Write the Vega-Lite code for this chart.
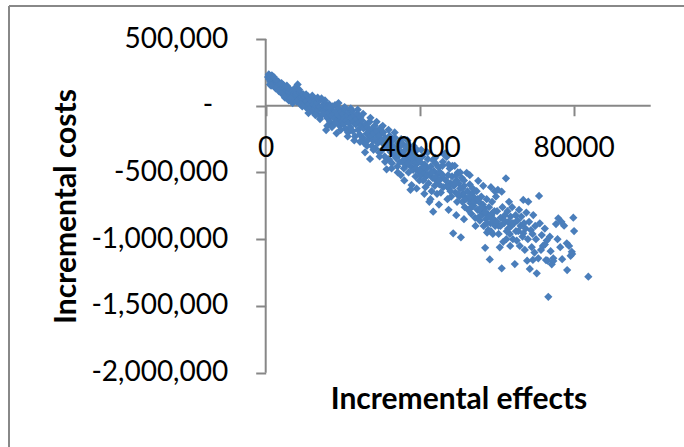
{
  "$schema": "https://vega.github.io/schema/vega-lite/v6.json",
  "width": 675,
  "height": 441,
  "autosize": {"type": "none"},
  "padding": {"left": 9, "top": 6, "right": 0, "bottom": 0},
  "config": {
    "font": "Lato",
    "view": {"stroke": "#888888", "strokeWidth": 2, "strokeDash": [675, 1116, 441, 0]}
  },
  "datasets": {
    "axes": [
      {"e": 0, "e2": 0, "c": -2000000, "c2": 500000},
      {"e": 0, "e2": 100000, "c": 0, "c2": 0}
    ],
    "pts": [
      {"e":600,"c":215000},{"e":800,"c":235000},{"e":900,"c":198000},{"e":1000,"c":225000},{"e":1200,"c":180000},{"e":1300,"c":210000},{"e":1500,"c":190000},{"e":1600,"c":228000},{"e":1700,"c":170000},{"e":1900,"c":205000},{"e":2000,"c":185000},{"e":2200,"c":160000},{"e":2300,"c":200000},{"e":2500,"c":175000},{"e":2700,"c":150000},{"e":2800,"c":190000},{"e":3000,"c":165000},{"e":3100,"c":140000},
      {"e":3300,"c":180000},{"e":3500,"c":130000},{"e":3600,"c":160000},{"e":3800,"c":145000},{"e":4000,"c":120000},{"e":4100,"c":170000},{"e":4300,"c":135000},{"e":4500,"c":110000},{"e":4600,"c":155000},{"e":4800,"c":125000},{"e":5000,"c":100000},{"e":5200,"c":140000},{"e":5400,"c":115000},{"e":5600,"c":90000},{"e":5800,"c":130000},
      {"e":6000,"c":105000},{"e":6200,"c":75000},{"e":6400,"c":120000},{"e":6600,"c":95000},{"e":6800,"c":60000},{"e":7000,"c":110000},{"e":7200,"c":85000},{"e":7400,"c":50000},{"e":7600,"c":100000},{"e":7800,"c":70000},{"e":8000,"c":90000},{"e":8300,"c":160000},{"e":8400,"c":40000},{"e":8600,"c":80000},{"e":8800,"c":55000},{"e":9000,"c":100000},{"e":9200,"c":30000},{"e":9400,"c":65000},{"e":9600,"c":45000},{"e":9800,"c":85000},
      {"e":10000,"c":20000},{"e":10200,"c":60000},{"e":10400,"c":-10000},{"e":10600,"c":35000},{"e":10800,"c":5000},{"e":11000,"c":70000},{"e":11200,"c":-30000},{"e":11400,"c":15000},{"e":11600,"c":45000},{"e":11800,"c":-15000},{"e":12000,"c":30000},{"e":12200,"c":-45000},{"e":12400,"c":10000},{"e":12600,"c":50000},{"e":12800,"c":-20000},{"e":13000,"c":0},{"e":13200,"c":-60000},{"e":13400,"c":25000},{"e":13600,"c":-35000},{"e":13800,"c":40000},{"e":14000,"c":-10000},{"e":14200,"c":-80000},{"e":14500,"c":55000},{"e":14700,"c":-25000},{"e":14900,"c":5000},
      {"e":15100,"c":-40000},{"e":15300,"c":20000},{"e":15500,"c":-70000},{"e":15700,"c":-182000},{"e":15900,"c":-15000},{"e":16100,"c":-95000},{"e":16300,"c":-50000},{"e":16500,"c":10000},{"e":16700,"c":-120000},{"e":16900,"c":-30000},{"e":17100,"c":-75000},{"e":17300,"c":-5000},{"e":17500,"c":-140000},{"e":17700,"c":-60000},{"e":17900,"c":-95000},{"e":18000,"c":5000},{"e":18200,"c":-40000},{"e":18400,"c":-207000},{"e":18600,"c":-110000},{"e":18800,"c":-70000},{"e":19000,"c":-20000},{"e":19200,"c":-150000},{"e":19400,"c":-85000},{"e":19600,"c":-45000},{"e":19800,"c":-120000},
      {"e":20000,"c":-60000},{"e":20200,"c":-140000},{"e":20400,"c":-95000},{"e":20600,"c":-30000},{"e":20800,"c":-175000},{"e":21000,"c":-110000},{"e":21200,"c":-70000},{"e":21400,"c":-200000},{"e":21600,"c":-130000},{"e":21800,"c":-50000},{"e":22000,"c":-160000},{"e":22200,"c":-90000},{"e":22400,"c":-40000},{"e":22600,"c":-190000},{"e":22800,"c":-120000},{"e":23000,"c":-75000},{"e":23200,"c":-230000},{"e":23400,"c":-140000},{"e":23600,"c":-100000},{"e":23800,"c":-60000},{"e":24000,"c":-180000},{"e":24200,"c":-125000},{"e":24400,"c":-215000},{"e":24600,"c":-85000},{"e":24800,"c":-150000},
      {"e":25000,"c":-110000},{"e":25200,"c":-240000},{"e":25400,"c":-170000},{"e":25600,"c":-280000},{"e":25800,"c":-349000},{"e":26000,"c":-137000},{"e":26200,"c":-210000},{"e":26400,"c":-160000},{"e":26600,"c":-255000},{"e":26800,"c":-190000},{"e":27000,"c":-120000},{"e":27100,"c":-399000},{"e":27300,"c":-230000},{"e":27500,"c":-300000},{"e":27700,"c":-175000},{"e":27900,"c":-260000},{"e":28100,"c":-205000},{"e":28300,"c":-150000},{"e":28500,"c":-320000},{"e":28700,"c":-245000},{"e":28900,"c":-190000},{"e":29100,"c":-280000},{"e":29300,"c":-225000},{"e":29500,"c":-350000},{"e":29700,"c":-220000},{"e":29900,"c":-165000},
      {"e":30100,"c":-260000},{"e":30300,"c":-330000},{"e":30500,"c":-200000},{"e":30700,"c":-290000},{"e":30900,"c":-380000},{"e":31100,"c":-240000},{"e":31400,"c":-476000},{"e":31600,"c":-310000},{"e":31800,"c":-265000},{"e":32000,"c":-400000},{"e":32200,"c":-225000},{"e":32400,"c":-345000},{"e":32600,"c":-295000},{"e":32800,"c":-430000},{"e":33000,"c":-260000},{"e":33200,"c":-360000},{"e":33400,"c":-310000},{"e":33600,"c":-240000},{"e":33800,"c":-390000},{"e":34000,"c":-330000},{"e":34200,"c":-455000},{"e":34400,"c":-280000},{"e":34600,"c":-370000},{"e":34800,"c":-420000},{"e":35000,"c":-300000},
      {"e":35100,"c":-519000},{"e":35300,"c":-350000},{"e":35500,"c":-420000},{"e":35700,"c":-290000},{"e":35900,"c":-470000},{"e":36100,"c":-380000},{"e":36300,"c":-330000},{"e":36500,"c":-445000},{"e":36700,"c":-395000},{"e":36900,"c":-300000},{"e":37100,"c":-500000},{"e":37300,"c":-410000},{"e":37500,"c":-360000},{"e":37700,"c":-455000},{"e":37900,"c":-594000},{"e":38100,"c":-340000},{"e":38300,"c":-480000},{"e":38500,"c":-420000},{"e":38700,"c":-380000},{"e":38900,"c":-530000},{"e":39100,"c":-440000},{"e":39300,"c":-330000},{"e":39500,"c":-490000},{"e":39700,"c":-400000},{"e":39900,"c":-560000},
      {"e":40100,"c":-420000},{"e":40300,"c":-520000},{"e":40500,"c":-470000},{"e":40700,"c":-380000},{"e":40900,"c":-560000},{"e":41100,"c":-500000},{"e":41300,"c":-440000},{"e":41500,"c":-610000},{"e":41700,"c":-530000},{"e":41900,"c":-470000},{"e":42100,"c":-400000},{"e":42300,"c":-580000},{"e":42500,"c":-720000},{"e":42700,"c":-510000},{"e":42900,"c":-455000},{"e":43100,"c":-640000},{"e":43300,"c":-540000},{"e":43400,"c":-407000},{"e":43500,"c":-794000},{"e":43700,"c":-490000},{"e":43900,"c":-600000},{"e":44100,"c":-430000},{"e":44300,"c":-560000},{"e":44500,"c":-660000},{"e":44700,"c":-510000},{"e":44900,"c":-460000},
      {"e":45100,"c":-590000},{"e":45300,"c":-500000},{"e":45500,"c":-650000},{"e":45700,"c":-540000},{"e":45900,"c":-450000},{"e":46100,"c":-610000},{"e":46400,"c":-367000},{"e":46600,"c":-357000},{"e":46800,"c":-560000},{"e":47000,"c":-384000},{"e":47200,"c":-700000},{"e":47400,"c":-520000},{"e":47600,"c":-620000},{"e":47800,"c":-470000},{"e":48000,"c":-580000},{"e":48200,"c":-680000},{"e":48400,"c":-530000},{"e":48700,"c":-956000},{"e":48900,"c":-600000},{"e":49100,"c":-450000},{"e":49300,"c":-650000},{"e":49500,"c":-560000},{"e":49700,"c":-720000},{"e":49900,"c":-500000},
      {"e":50100,"c":-580000},{"e":50300,"c":-680000},{"e":50500,"c":-620000},{"e":50700,"c":-986000},{"e":50900,"c":-540000},{"e":51100,"c":-720000},{"e":51300,"c":-660000},{"e":51500,"c":-600000},{"e":51700,"c":-760000},{"e":51900,"c":-690000},{"e":52200,"c":-502000},{"e":52400,"c":-640000},{"e":52600,"c":-780000},{"e":52800,"c":-700000},{"e":53000,"c":-590000},{"e":53200,"c":-730000},{"e":53400,"c":-810000},{"e":53600,"c":-660000},{"e":53800,"c":-620000},{"e":54000,"c":-750000},{"e":54200,"c":-690000},{"e":54400,"c":-840000},{"e":54600,"c":-710000},{"e":54800,"c":-640000},{"e":55000,"c":-780000},{"e":55200,"c":-562000},
      {"e":55400,"c":-720000},{"e":55600,"c":-860000},{"e":55800,"c":-790000},{"e":56000,"c":-680000},{"e":56200,"c":-820000},{"e":56400,"c":-740000},{"e":56600,"c":-900000},{"e":56800,"c":-770000},{"e":57000,"c":-1064000},{"e":57200,"c":-850000},{"e":57400,"c":-700000},{"e":57600,"c":-810000},{"e":57800,"c":-930000},{"e":58000,"c":-760000},{"e":58200,"c":-1151000},{"e":58400,"c":-880000},{"e":58500,"c":-610000},{"e":58600,"c":-820000},{"e":58800,"c":-720000},{"e":59000,"c":-960000},{"e":59200,"c":-850000},{"e":59400,"c":-790000},{"e":59500,"c":-640000},{"e":59600,"c":-900000},{"e":59800,"c":-680000},
      {"e":60100,"c":-790000},{"e":60300,"c":-630000},{"e":60500,"c":-900000},{"e":60800,"c":-1061000},{"e":61000,"c":-840000},{"e":61300,"c":-644000},{"e":61300,"c":-1218000},{"e":61500,"c":-760000},{"e":61700,"c":-1019000},{"e":61900,"c":-880000},{"e":62100,"c":-820000},{"e":62400,"c":-544000},{"e":62600,"c":-940000},{"e":62800,"c":-790000},{"e":63000,"c":-870000},{"e":63200,"c":-720000},{"e":63400,"c":-960000},{"e":63600,"c":-830000},{"e":63800,"c":-900000},{"e":64000,"c":-760000},{"e":64200,"c":-1000000},{"e":64500,"c":-880000},{"e":64700,"c":-1186000},{"e":64900,"c":-820000},
      {"e":65200,"c":-1010000},{"e":65400,"c":-860000},{"e":65600,"c":-940000},{"e":65800,"c":-780000},{"e":66000,"c":-1050000},{"e":66200,"c":-900000},{"e":66400,"c":-830000},{"e":66700,"c":-980000},{"e":66900,"c":-706000},{"e":66900,"c":-956000},{"e":67100,"c":-880000},{"e":67300,"c":-1080000},{"e":67500,"c":-920000},{"e":67700,"c":-800000},{"e":67900,"c":-1161000},{"e":68100,"c":-1000000},{"e":68200,"c":-719000},{"e":68400,"c":-870000},{"e":68600,"c":-1223000},{"e":68900,"c":-931000},{"e":69100,"c":-1060000},{"e":69300,"c":-960000},{"e":69500,"c":-819000},{"e":69800,"c":-1100000},{"e":70000,"c":-900000},
      {"e":70400,"c":-1255000},{"e":70800,"c":-1143000},{"e":71000,"c":-676000},{"e":71200,"c":-881000},{"e":71700,"c":-969000},{"e":72800,"c":-1156000},{"e":73400,"c":-1431000},{"e":73800,"c":-981000},{"e":74300,"c":-1188000},{"e":74700,"c":-1163000},{"e":72000,"c":-1050000},{"e":73000,"c":-1010000},{"e":71500,"c":-1080000},{"e":72500,"c":-920000},{"e":74000,"c":-1090000},{"e":70200,"c":-1000000},{"e":72500,"c":-1040000},{"e":73200,"c":-1160000},{"e":74700,"c":-1143000},{"e":69400,"c":-1155000},
      {"e":75400,"c":-886000},{"e":76000,"c":-843000},{"e":77500,"c":-899000},{"e":78200,"c":-1031000},{"e":78300,"c":-1231000},{"e":79500,"c":-1094000},{"e":79200,"c":-1124000},{"e":79900,"c":-839000},{"e":80100,"c":-939000},{"e":83800,"c":-1281000},{"e":76500,"c":-1060000},{"e":77000,"c":-1150000},{"e":75800,"c":-1000000},{"e":76800,"c":-870000},{"e":78800,"c":-1050000},{"e":79600,"c":-1110000},
      {"e":36000,"c":-400000},{"e":37000,"c":-430000},{"e":38000,"c":-390000},{"e":39000,"c":-470000},{"e":40000,"c":-480000},{"e":41000,"c":-460000},{"e":42000,"c":-520000},{"e":43000,"c":-500000},{"e":44000,"c":-540000},{"e":45000,"c":-560000},{"e":46000,"c":-520000},{"e":47000,"c":-600000},{"e":48000,"c":-640000},{"e":49000,"c":-580000},{"e":50000,"c":-660000},{"e":51000,"c":-620000},{"e":52000,"c":-700000},{"e":53000,"c":-680000},{"e":54000,"c":-720000},{"e":55000,"c":-700000},{"e":56000,"c":-760000},{"e":57000,"c":-800000},{"e":58000,"c":-830000},{"e":59000,"c":-800000},{"e":60000,"c":-870000},{"e":61000,"c":-900000},{"e":62000,"c":-860000},{"e":63000,"c":-920000},{"e":64000,"c":-880000},{"e":65000,"c":-940000},{"e":57500,"c":-880000},{"e":58500,"c":-940000},{"e":60500,"c":-960000},{"e":62500,"c":-1000000},{"e":63500,"c":-1050000},{"e":55500,"c":-830000},{"e":53500,"c":-760000},{"e":51500,"c":-560000},{"e":49500,"c":-520000},{"e":47500,"c":-440000},
      {"e":1100,"c":160000},{"e":1400,"c":150000},{"e":2100,"c":215000},{"e":2600,"c":130000},{"e":3400,"c":110000},{"e":4200,"c":90000},{"e":5000,"c":60000},{"e":5500,"c":150000},{"e":6000,"c":40000},{"e":6500,"c":55000},{"e":7000,"c":20000},{"e":7500,"c":130000},{"e":8000,"c":30000},{"e":8700,"c":120000},{"e":9100,"c":10000},{"e":9500,"c":-5000},
      {"e":10500,"c":85000},{"e":11100,"c":-55000},{"e":12100,"c":75000},{"e":12900,"c":-70000},{"e":13500,"c":60000},{"e":14100,"c":-100000},{"e":14800,"c":-60000},{"e":15400,"c":40000},{"e":16000,"c":-150000},{"e":16600,"c":-10000},{"e":17200,"c":-160000},{"e":18100,"c":-130000},{"e":18900,"c":20000},{"e":19500,"c":-180000},
      {"e":20500,"c":-10000},{"e":21300,"c":-230000},{"e":22100,"c":-20000},{"e":23000,"c":-260000},{"e":23900,"c":-30000},{"e":24500,"c":-270000},{"e":25300,"c":-60000},{"e":26300,"c":-300000},{"e":27200,"c":-90000},{"e":28000,"c":-330000},{"e":28800,"c":-120000},{"e":29600,"c":-380000},
      {"e":30400,"c":-150000},{"e":31000,"c":-420000},{"e":31900,"c":-180000},{"e":32700,"c":-470000},{"e":33500,"c":-200000},{"e":34300,"c":-500000},{"e":35200,"c":-250000},{"e":36000,"c":-560000},{"e":36800,"c":-260000},{"e":37600,"c":-630000},{"e":38400,"c":-300000},{"e":39200,"c":-620000},
      {"e":40400,"c":-330000},{"e":41200,"c":-660000},{"e":42000,"c":-350000},{"e":42800,"c":-700000},{"e":44000,"c":-390000},{"e":45000,"c":-740000},{"e":46000,"c":-420000},{"e":47500,"c":-780000},{"e":48500,"c":-450000},{"e":49500,"c":-820000},
      {"e":50500,"c":-500000},{"e":51500,"c":-850000},{"e":53000,"c":-520000},{"e":54500,"c":-900000},{"e":56500,"c":-600000},{"e":57500,"c":-950000}
    ]
  },
  "layer": [
    {
      "data": {"name": "axes"},
      "mark": {"type": "rule", "color": "#878787", "strokeWidth": 2},
      "encoding": {
        "x": {
          "field": "e", "type": "quantitative",
          "scale": {"domain": [-66675, 108649], "nice": false, "zero": false},
          "axis": {
            "orient": "bottom", "offset": -341.26, "values": [0, 40000, 80000], "format": "d",
            "domain": false, "grid": false, "zindex": 1,
            "ticks": true, "tickSize": 10, "tickWidth": 2, "tickColor": "#878787",
            "labelFont": "Lato", "labelFontSize": 28, "labelColor": "#000000", "labelPadding": 19,
            "labelBaseline": "top", "labelFlush": false, "labelOverlap": false,
            "title": "Incremental effects", "titleFont": "Lato", "titleFontSize": 30, "titleFontWeight": "bold",
            "titleColor": "#000000", "titleX": 449.5, "titleY": 302.6, "titleAlign": "center", "titleBaseline": "alphabetic", "titleAngle": 0
          }
        },
        "x2": {"field": "e2"},
        "y": {
          "field": "c", "type": "quantitative",
          "scale": {"domain": [-2556563, 747228], "nice": false, "zero": false},
          "axis": {
            "orient": "left", "offset": -256.7, "values": [-2000000, -1500000, -1000000, -500000, 0, 500000],
            "labelExpr": "datum.value === 0 ? '-' : (datum.value < 0 ? '-' : '') + format(abs(datum.value), ',')",
            "domain": false, "grid": false,
            "ticks": true, "tickSize": 10, "tickWidth": 2, "tickColor": "#878787",
            "labelFont": "Lato", "labelFontSize": 28, "labelColor": "#000000",
            "labelPadding": {"condition": {"test": "datum.value === 0", "value": 43}, "value": 28},
            "labelBaseline": "middle", "labelFlush": false, "labelOverlap": false,
            "title": "Incremental costs", "titleFont": "Lato", "titleFontSize": 30, "titleFontWeight": "bold",
            "titleColor": "#000000", "titleX": -190.7, "titleY": 200, "titleAlign": "center", "titleBaseline": "alphabetic", "titleAngle": 270
          }
        },
        "y2": {"field": "c2"}
      }
    },
    {
      "data": {"name": "pts"},
      "mark": {"type": "point", "shape": "diamond", "filled": true, "size": 68, "color": "#4A7EBB", "opacity": 1},
      "encoding": {
        "x": {"field": "e", "type": "quantitative"},
        "y": {"field": "c", "type": "quantitative"}
      }
    }
  ]
}
